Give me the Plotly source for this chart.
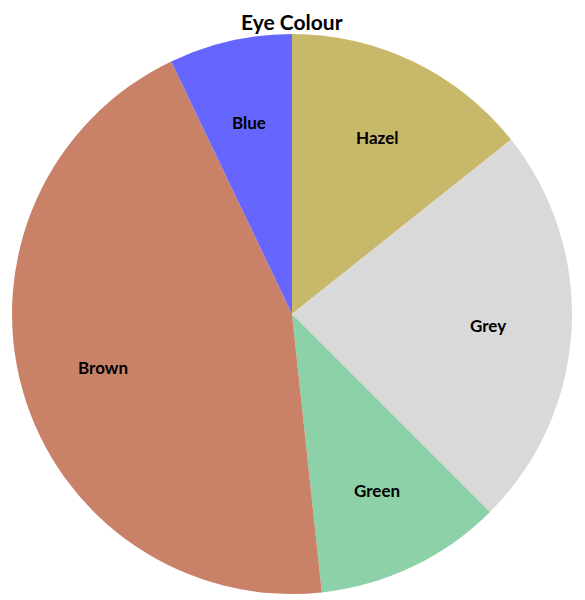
import math
import plotly.graph_objects as go

labels = ["Hazel", "Grey", "Green", "Brown", "Blue"]
values = [14.3, 23.2, 10.8, 44.6, 7.1]
colors = ["#C8B86A", "#D9D9D9", "#8DD1A8", "#C98268", "#6666FF"]

# page body has an 8px margin, so the figure is drawn 8px smaller and offset
W, H = 577, 592
ml, mr, mt, mb = 4, 13, 26, 6

fig = go.Figure(go.Pie(
    labels=labels, values=values, sort=False, direction="clockwise", rotation=0,
    marker=dict(colors=colors, line=dict(width=0)),
    textinfo="none", hoverinfo="label+percent", showlegend=False,
    domain=dict(x=[0, 1], y=[0, 1]),
))

# label annotations at 70% of the radius along each slice's middle angle
total = sum(values)
cum = 0.0
annotations = []
for lab, v in zip(labels, values):
    mid = (cum + v / 2) / total * 2 * math.pi
    cum += v
    annotations.append(dict(
        x=0.5 + 0.35 * math.sin(mid), y=0.5 + 0.35 * math.cos(mid),
        xref="paper", yref="paper", xanchor="center", yanchor="middle",
        text="<b>" + lab + "</b>", showarrow=False,
        font=dict(family="Lato, Open Sans, sans-serif", size=17, color="#000000"),
    ))

# chart title
annotations.append(dict(
    x=0.5, y=1, xref="paper", yref="paper", xanchor="center", yanchor="middle",
    yshift=13, text="<b>Eye Colour</b>", showarrow=False,
    font=dict(family="Lato, Open Sans, sans-serif", size=21, color="#000000"),
))

fig.update_layout(
    width=W, height=H,
    margin=dict(l=ml, r=mr, t=mt, b=mb),
    paper_bgcolor="white", plot_bgcolor="white",
    annotations=annotations,
)

fig.write_html("out.html")
